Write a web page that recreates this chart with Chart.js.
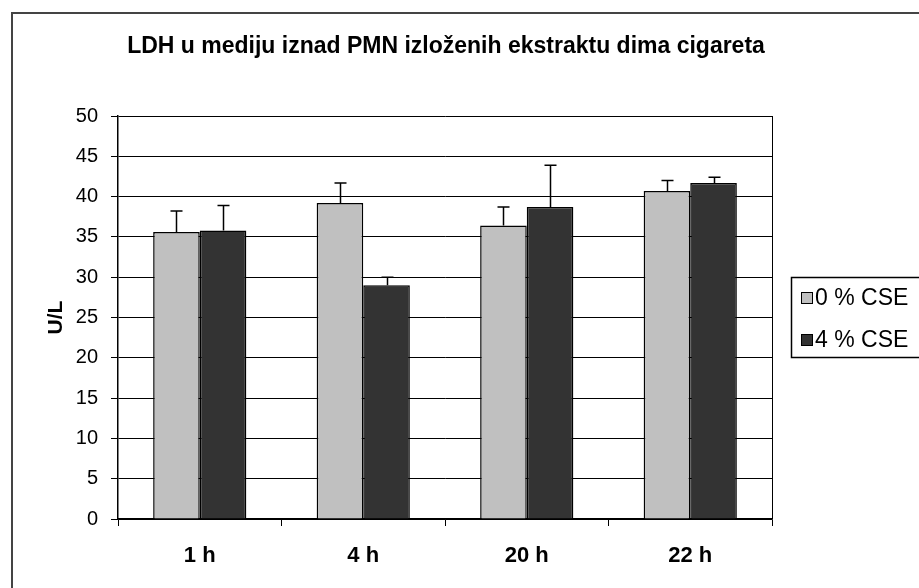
<!DOCTYPE html>
<html lang="hr">

<head>
    <meta charset="UTF-8">
    <title>LDH</title>
    <script src="https://cdn.jsdelivr.net/npm/chart.js"></script>
    <style>
        html, body { margin: 0; padding: 0; background: #fff; }
        #grafik { display: block; }
    </style>
</head>

<body>
    <canvas id="grafik" width="919" height="588"></canvas>
</body>

<script>
    // podaci
    const kategorije = ['1 h', '4 h', '20 h', '22 h'];
    const serije = ['0 % CSE', '4 % CSE'];
    const cse0 = [35.6, 39.2, 36.4, 40.7];
    const cse4 = [35.8, 29.0, 38.7, 41.7];
    const greska0 = [2.6, 2.5, 2.3, 1.3];
    const greska4 = [3.1, 1.0, 5.2, 0.7];
    const yMin = 0, yMax = 50, yKorak = 5;

    const naslov = 'LDH u mediju iznad PMN izloženih ekstraktu dima cigareta';
    const boje = ['#c0c0c0', '#333333'];
    const font = '"Liberation Sans", Arial, sans-serif';

    // okvir grafa, naslov, desni rub podrucja i legenda
    const okvir = {
        id: 'okvir',
        beforeDraw(chart) {
            const ctx = chart.ctx;
            ctx.save();
            ctx.fillStyle = '#fff';
            ctx.fillRect(0, 0, chart.width, chart.height);
            ctx.strokeStyle = '#444';
            ctx.lineWidth = 2;
            ctx.beginPath();
            ctx.moveTo(12, chart.height + 2);
            ctx.lineTo(12, 13);
            ctx.lineTo(chart.width + 2, 13);
            ctx.stroke();

            ctx.fillStyle = '#000';
            ctx.font = 'bold 23px ' + font;
            ctx.textAlign = 'center';
            ctx.textBaseline = 'middle';
            ctx.fillText(naslov, 446, 47);
            ctx.restore();
        },
        afterDraw(chart) {
            const ctx = chart.ctx;
            const a = chart.chartArea;
            ctx.save();
            ctx.strokeStyle = '#000';
            ctx.lineWidth = 1;
            ctx.beginPath();
            ctx.moveTo(Math.round(a.right) + 0.5, a.top);
            ctx.lineTo(Math.round(a.right) + 0.5, a.bottom);
            ctx.stroke();

            // legenda
            ctx.lineWidth = 1.5;
            ctx.strokeRect(791.5, 277.5, 140, 80);
            ctx.font = '23px ' + font;
            ctx.textBaseline = 'middle';
            serije.forEach((s, i) => {
                const y = 292 + i * 42;
                ctx.fillStyle = boje[i];
                ctx.fillRect(801, y, 12, 12);
                ctx.lineWidth = 1;
                ctx.strokeRect(801.5, y + 0.5, 11, 11);
                ctx.fillStyle = '#000';
                ctx.fillText(s, 815, y + 7);
            });
            ctx.restore();
        }
    };

    // greske (samo gornji dio)
    const greske = {
        id: 'greske',
        afterDatasetsDraw(chart) {
            const ctx = chart.ctx;
            const yScale = chart.scales.y;
            ctx.save();
            ctx.strokeStyle = '#000';
            ctx.lineWidth = 1.5;
            chart.data.datasets.forEach((ds, i) => {
                const meta = chart.getDatasetMeta(i);
                meta.data.forEach((bar, j) => {
                    const x = Math.round(bar.x) + 0.5;
                    const yv = yScale.getPixelForValue(ds.data[j] + ds.greska[j]);
                    ctx.beginPath();
                    ctx.moveTo(x, bar.y);
                    ctx.lineTo(x, yv);
                    ctx.moveTo(x - 6, yv);
                    ctx.lineTo(x + 6, yv);
                    ctx.stroke();
                });
            });
            ctx.restore();
        }
    };

    new Chart(document.getElementById('grafik'), {
        type: 'bar',
        data: {
            labels: kategorije,
            datasets: [
                { label: serije[0], data: cse0, greska: greska0, backgroundColor: boje[0], borderColor: '#000', borderWidth: 1.5 },
                { label: serije[1], data: cse4, greska: greska4, backgroundColor: boje[1], borderColor: '#000', borderWidth: 1.5 }
            ]
        },
        options: {
            responsive: false,
            animation: false,
            layout: { padding: { left: 0, top: 116, right: 147, bottom: 0 } },
            datasets: { bar: { categoryPercentage: 0.57, barPercentage: 1 } },
            plugins: {
                legend: { display: false },
                title: { display: false },
                tooltip: { enabled: false }
            },
            scales: {
                x: {
                    afterFit: (s) => { s.height = 69; },
                    grid: { offset: true, drawOnChartArea: false, color: '#000', tickLength: 7, lineWidth: 1 },
                    border: { color: '#000', width: 1.5 },
                    ticks: { color: '#000', padding: 17, font: { family: font, size: 22, weight: 'bold' } }
                },
                y: {
                    min: yMin,
                    max: yMax,
                    afterFit: (s) => { s.width = 118; },
                    grid: { color: '#000', tickLength: 7, lineWidth: 1 },
                    border: { color: '#000', width: 1.5 },
                    ticks: { stepSize: yKorak, color: '#000', padding: 13, font: { family: font, size: 20 } },
                    title: { display: true, text: 'U/L', color: '#000', padding: { top: 44, bottom: 0 }, font: { family: font, size: 21, weight: 'bold' } }
                }
            }
        },
        plugins: [okvir, greske]
    });
</script>

</html>
